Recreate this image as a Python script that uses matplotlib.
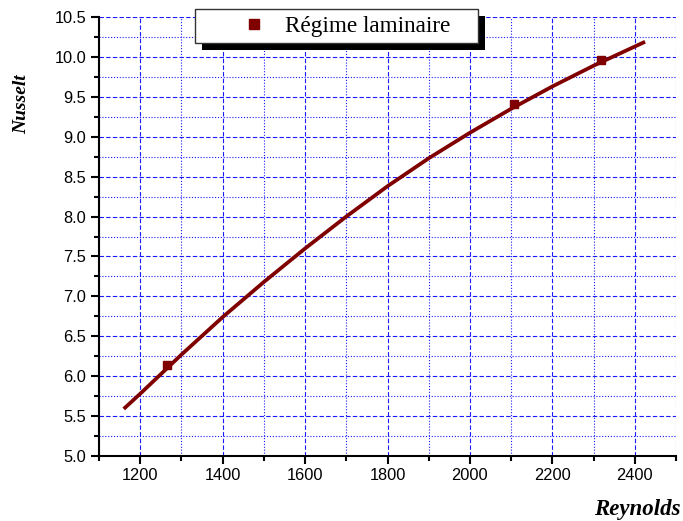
import matplotlib
matplotlib.use("Agg")
import matplotlib.pyplot as plt
from matplotlib.ticker import MultipleLocator, FormatStrFormatter
from matplotlib.patches import Rectangle

# Data
re_points = [1264, 2106, 2318]
nu_points = [6.14, 9.41, 9.96]

re_fit = [1160, 1200, 1300, 1400, 1500, 1600, 1700, 1800, 1900, 2000, 2100, 2200, 2300, 2400, 2425]
nu_fit = [5.59, 5.78, 6.27, 6.74, 7.18, 7.60, 8.00, 8.38, 8.73, 9.05, 9.35, 9.63, 9.89, 10.13, 10.19]

series_label = "Régime laminaire"
x_label = "Reynolds"
y_label = "Nusselt"

W, H = 683, 521
fig = plt.figure(figsize=(W / 100, H / 100), dpi=100)
ax = fig.add_axes([99 / W, 1 - 456 / H, (676 - 99) / W, (456 - 17) / H])

red = "#800000"
ax.plot(re_fit, nu_fit, color=red, lw=2.7, zorder=3, solid_capstyle="butt")
ax.plot(re_points, nu_points, ls="none", marker="s", ms=6, color=red,
        label=series_label, zorder=4)

ax.set_xlim(1100, 2500)
ax.set_ylim(5.0, 10.5)
ax.xaxis.set_major_locator(MultipleLocator(200))
ax.xaxis.set_minor_locator(MultipleLocator(100))
ax.yaxis.set_major_locator(MultipleLocator(0.5))
ax.yaxis.set_minor_locator(MultipleLocator(0.25))
ax.yaxis.set_major_formatter(FormatStrFormatter("%.1f"))

ax.grid(which="major", color="#1a1aff", ls=(0, (4, 2)), lw=0.8)
ax.grid(which="minor", color="#1a1aff", ls=(0, (1, 1.6)), lw=0.8)
ax.set_axisbelow(True)

for s in ["top", "right"]:
    ax.spines[s].set_visible(False)
for s in ["left", "bottom"]:
    ax.spines[s].set_linewidth(1.5)
    ax.spines[s].set_color("black")

ax.tick_params(which="major", direction="out", length=6, width=1.5,
               labelsize=11.8, pad=3)
ax.tick_params(which="minor", direction="out", length=3.5, width=1.5)
for lab in ax.get_xticklabels() + ax.get_yticklabels():
    lab.set_family("Liberation Sans")

fig.text(22 / W, 1 - 104 / H, y_label, rotation=90, ha="center", va="center",
         family="Liberation Serif", fontstyle="italic", fontweight="bold", fontsize=14)
fig.text(681 / W, 1 - 509 / H, x_label, ha="right", va="center",
         family="Liberation Serif", fontstyle="italic", fontweight="bold", fontsize=16.5)

fs = 16.7
leg = ax.legend(loc="upper left",
                bbox_to_anchor=(195 / W, 1 - 44 / H, (478 - 195) / W, 35 / H),
                bbox_transform=fig.transFigure, mode="expand",
                fancybox=False, frameon=True, borderpad=0.28,
                handlelength=4.5, handletextpad=-0.9, borderaxespad=0,
                prop={"family": "Liberation Serif", "size": fs},
                markerscale=1.15, framealpha=1)
leg.get_frame().set_edgecolor("#333333")
leg.get_frame().set_linewidth(1.0)
leg.set_zorder(10)

fig.canvas.draw()
bb = leg.get_frame().get_window_extent(fig.canvas.get_renderer())
off = 6.5
shadow = Rectangle(((bb.x0 + off) / W, (bb.y0 - off) / H), bb.width / W, bb.height / H,
                   transform=fig.transFigure, facecolor="black", edgecolor="none",
                   zorder=9, clip_on=False)
ax.add_artist(shadow)

fig.savefig("out.png", dpi=100)
